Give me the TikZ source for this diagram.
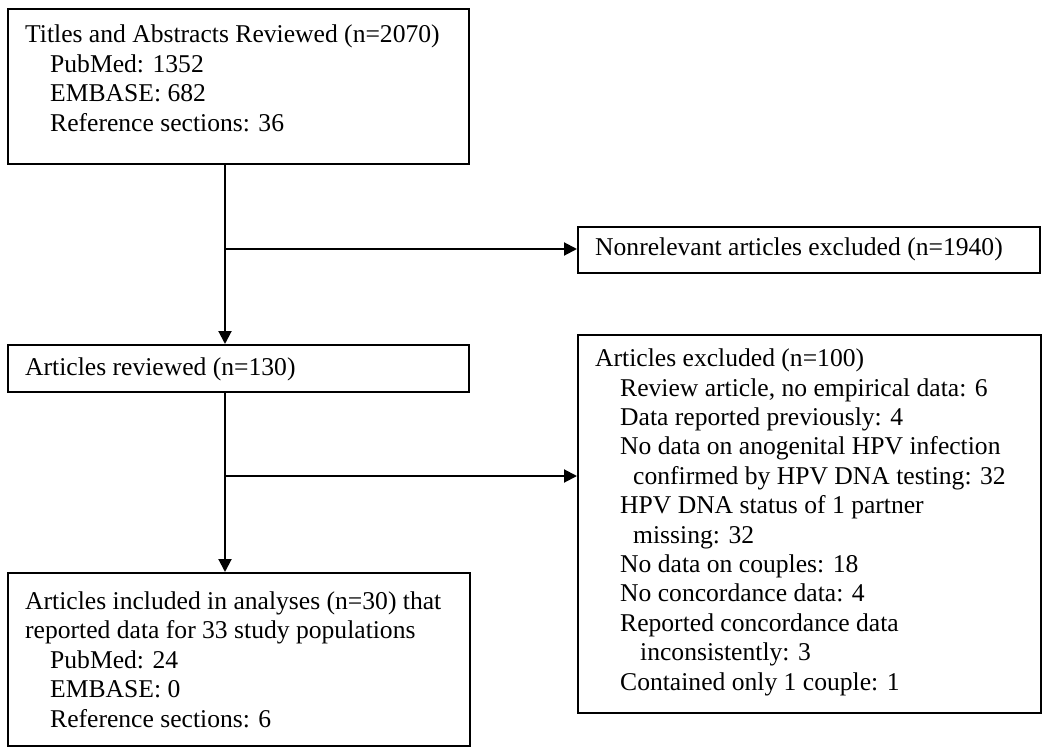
\documentclass[tikz,border=0pt]{standalone}
\usepackage{fontspec}
\setmainfont{Liberation Serif}
\usetikzlibrary{arrows.meta}
\begin{document}
\begin{tikzpicture}[x=1pt,y=-1pt,
  box/.style={draw=black,line width=1.8pt,anchor=north west,inner sep=0pt,fill=none},
  txt/.style={anchor=base west,align=left,inner sep=0pt,font=\fontsize{25.6}{29.4}\selectfont},
  conn/.style={line width=2pt,draw=black},
  arr/.style={conn,-{Triangle[length=13pt,width=13pt]}}]
\useasboundingbox (0,0) rectangle (1050,755);
% boxes
\node[box,minimum width=461pt,minimum height=155pt] (b1) at (7,8) {};
\node[box,minimum width=462pt,minimum height=46pt] (b3) at (577,226) {};
\node[box,minimum width=461pt,minimum height=47pt] (b2) at (7,344) {};
\node[box,minimum width=463pt,minimum height=378pt] (b5) at (577,334) {};
\node[box,minimum width=462pt,minimum height=173pt] (b4) at (7,572) {};
% texts (anchored at the baseline of the last line)
\node[txt] (t1) at (25,131) {Titles and Abstracts Reviewed (n=2070)\\
\hspace*{25pt}PubMed: 1352\\
\hspace*{25pt}EMBASE: 682\\
\hspace*{25pt}Reference sections: 36};
\node[txt] (t3) at (595,255) {Nonrelevant articles excluded (n=1940)};
\node[txt] (t2) at (25,375) {Articles reviewed (n=130)};
\node[txt] (t5) at (595,690) {Articles excluded (n=100)\\
\hspace*{25pt}Review article, no empirical data: 6\\
\hspace*{25pt}Data reported previously: 4\\
\hspace*{25pt}No data on anogenital HPV infection\\
\hspace*{38pt}confirmed by HPV DNA testing: 32\\
\hspace*{25pt}HPV DNA status of 1 partner\\
\hspace*{38pt}missing: 32\\
\hspace*{25pt}No data on couples: 18\\
\hspace*{25pt}No concordance data: 4\\
\hspace*{25pt}Reported concordance data\\
\hspace*{45pt}inconsistently: 3\\
\hspace*{25pt}Contained only 1 couple: 1};
\node[txt] (t4) at (25,727) {Articles included in analyses (n=30) that\\
reported data for 33 study populations\\
\hspace*{25pt}PubMed: 24\\
\hspace*{25pt}EMBASE: 0\\
\hspace*{25pt}Reference sections: 6};
% junctions
\coordinate (j1) at (225,249);
\coordinate (j2) at (225,476);
% connectors
\draw[arr] (b1.south -| j1) -- (b2.north -| j1);
\draw[arr] (j1) -- (j1 -| b3.west);
\draw[arr] (b2.south -| j2) -- (b4.north -| j2);
\draw[arr] (j2) -- (j2 -| b5.west);
\end{tikzpicture}
\end{document}
